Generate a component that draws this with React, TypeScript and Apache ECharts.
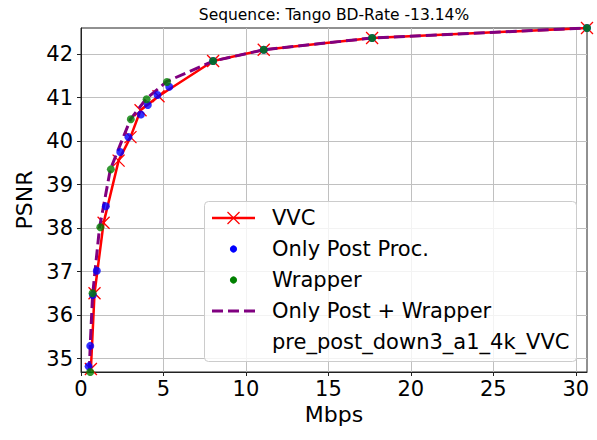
import React, { useEffect, useRef } from 'react';
import * as echarts from 'echarts';

const titleText = 'Sequence: Tango BD-Rate -13.14%';
const xTicks = [0, 5, 10, 15, 20, 25, 30];
const yTicks = [35, 36, 37, 38, 39, 40, 41, 42];

const vvcX = [0.6, 0.82, 1.37, 2.28, 3.0, 3.61, 4.7, 8.01, 11.08, 17.65, 30.68];
const vvcY = [34.76, 36.5, 38.12, 39.55, 40.09, 40.71, 41.03, 41.84, 42.1, 42.37, 42.6];

const postX = [0.46, 0.56, 0.72, 0.96, 1.51, 2.38, 2.88, 3.63, 4.05, 4.64, 5.35, 8.01, 11.08, 17.65, 30.68];
const postY = [34.82, 35.29, 36.46, 37.02, 38.5, 39.75, 40.09, 40.61, 40.83, 41.06, 41.25, 41.84, 42.1, 42.37, 42.6];

const wrapX = [0.56, 0.7, 1.17, 1.81, 3.02, 3.98, 5.21, 8.01, 11.08, 17.65, 30.68];
const wrapY = [34.69, 36.5, 38.02, 39.35, 40.5, 40.96, 41.36, 41.84, 42.1, 42.37, 42.6];

const bothX = [0.5, 0.56, 0.7, 1.12, 1.78, 3.0, 3.95, 5.2, 8.01, 11.08, 17.65, 30.68];
const bothY = [34.69, 35.3, 36.45, 38.0, 39.35, 40.5, 40.97, 41.37, 41.84, 42.1, 42.37, 42.6];

const legendNames = ['VVC', 'Only Post Proc.', 'Wrapper', 'Only Post + Wrapper', 'pre_post_down3_a1_4k_VVC'];

const FONT = 'DejaVu Sans';
const zip = (xs: number[], ys: number[]) => xs.map((x, i) => [x, ys[i]]);
const X_MIN = 0;
const X_MAX = 30.68;
const Y_MIN = 34.69;
const Y_MAX = 42.6;

export default function App() {
  const ref = useRef<HTMLDivElement>(null);
  useEffect(() => {
    if (!ref.current) return;
    const chart = echarts.init(ref.current, null, { renderer: 'svg' });

    const lx = 212, lx2 = 255, lc = 233.5, tx = 272;
    const rows = [218, 249, 280, 311, 342];
    const cross = 6;
    const legendGraphics: any[] = [
      {
        type: 'rect',
        shape: { x: 204.5, y: 201.5, width: 372, height: 160, r: 4 },
        style: { fill: 'rgba(255,255,255,0.8)', stroke: '#cccccc', lineWidth: 1 },
        z: 100,
      },
      { type: 'line', shape: { x1: lx, y1: rows[0], x2: lx2, y2: rows[0] }, style: { stroke: '#ff0000', lineWidth: 2.5 }, z: 101 },
      { type: 'line', shape: { x1: lc - cross, y1: rows[0] - cross, x2: lc + cross, y2: rows[0] + cross }, style: { stroke: '#ff0000', lineWidth: 1.3 }, z: 101 },
      { type: 'line', shape: { x1: lc - cross, y1: rows[0] + cross, x2: lc + cross, y2: rows[0] - cross }, style: { stroke: '#ff0000', lineWidth: 1.3 }, z: 101 },
      { type: 'circle', shape: { cx: lc, cy: rows[1], r: 3.6 }, style: { fill: '#0000ff' }, z: 101 },
      { type: 'circle', shape: { cx: lc, cy: rows[2], r: 3.6 }, style: { fill: '#008000' }, z: 101 },
      { type: 'line', shape: { x1: lx, y1: rows[3], x2: lx2, y2: rows[3] }, style: { stroke: '#800080', lineWidth: 3, lineDash: [11, 5] }, z: 101 },
      ...legendNames.map((n, i) => ({
        type: 'text',
        x: tx,
        y: rows[i],
        style: { text: n, fill: '#000', font: `21px "${FONT}"`, textVerticalAlign: 'middle', textAlign: 'left' },
        z: 101,
      })),
    ];

    chart.setOption({
      animation: false,
      backgroundColor: '#ffffff',
      textStyle: { fontFamily: FONT },
      title: {
        text: titleText,
        left: 329,
        top: 2,
        textAlign: 'center',
        textStyle: { fontFamily: FONT, fontSize: 15.5, fontWeight: 'normal', color: '#000' },
      },
      grid: {
        left: 81,
        top: 28,
        width: 506,
        height: 344,
        show: true,
        borderColor: '#222',
        borderWidth: 1,
        backgroundColor: '#fff',
      },
      xAxis: {
        type: 'value',
        min: X_MIN,
        max: X_MAX,
        name: 'Mbps',
        nameLocation: 'middle',
        nameGap: 27,
        nameTextStyle: { fontFamily: FONT, fontSize: 22, color: '#000' },
        axisLine: { show: true, lineStyle: { color: '#222', width: 1 } },
        axisTick: { show: true, inside: false, length: 4, lineStyle: { color: '#222' }, customValues: xTicks },
        axisLabel: {
          fontFamily: FONT,
          fontSize: 21,
          color: '#000',
          margin: 6,
          customValues: xTicks,
          formatter: (v: number) => String(Math.round(v)),
        },
        splitLine: { show: true, lineStyle: { color: '#c0c0c0', width: 1 } },
      },
      yAxis: {
        type: 'value',
        min: Y_MIN,
        max: Y_MAX,
        name: 'PSNR',
        nameLocation: 'middle',
        nameGap: 44,
        nameTextStyle: { fontFamily: FONT, fontSize: 22, color: '#000' },
        axisLine: { show: true, lineStyle: { color: '#222', width: 1 } },
        axisTick: { show: true, inside: false, length: 4, lineStyle: { color: '#222' }, customValues: yTicks },
        axisLabel: {
          fontFamily: FONT,
          fontSize: 21,
          color: '#000',
          margin: 8,
          customValues: yTicks,
          formatter: (v: number) => String(Math.round(v)),
        },
        splitLine: { show: true, lineStyle: { color: '#c0c0c0', width: 1 } },
      },
      series: [
        {
          name: 'VVC',
          type: 'line',
          data: zip(vvcX, vvcY),
          clip: true,
          symbol: 'path://M0,0L10,10M10,0L0,10',
          symbolSize: 12,
          showAllSymbol: true,
          itemStyle: { color: '#ff0000', borderColor: '#ff0000', borderWidth: 1.3 },
          lineStyle: { color: '#ff0000', width: 2.5 },
          z: 2,
        },
        {
          name: 'Only Post Proc.',
          type: 'scatter',
          data: zip(postX, postY),
          symbol: 'circle',
          symbolSize: 8,
          itemStyle: { color: '#0000ff' },
          z: 4,
        },
        {
          name: 'Wrapper',
          type: 'scatter',
          data: zip(wrapX, wrapY),
          symbol: 'circle',
          symbolSize: 8,
          itemStyle: { color: '#008000' },
          z: 5,
        },
        {
          name: 'Only Post + Wrapper',
          type: 'line',
          data: zip(bothX, bothY),
          clip: true,
          symbol: 'none',
          lineStyle: { color: '#800080', width: 3, type: [11, 5] },
          z: 3,
        },
      ],
      graphic: legendGraphics,
    });
    return () => chart.dispose();
  }, []);
  return <div ref={ref} style={{ position: 'fixed', left: 0, top: 0, width: 597, height: 440 }} />;
}
